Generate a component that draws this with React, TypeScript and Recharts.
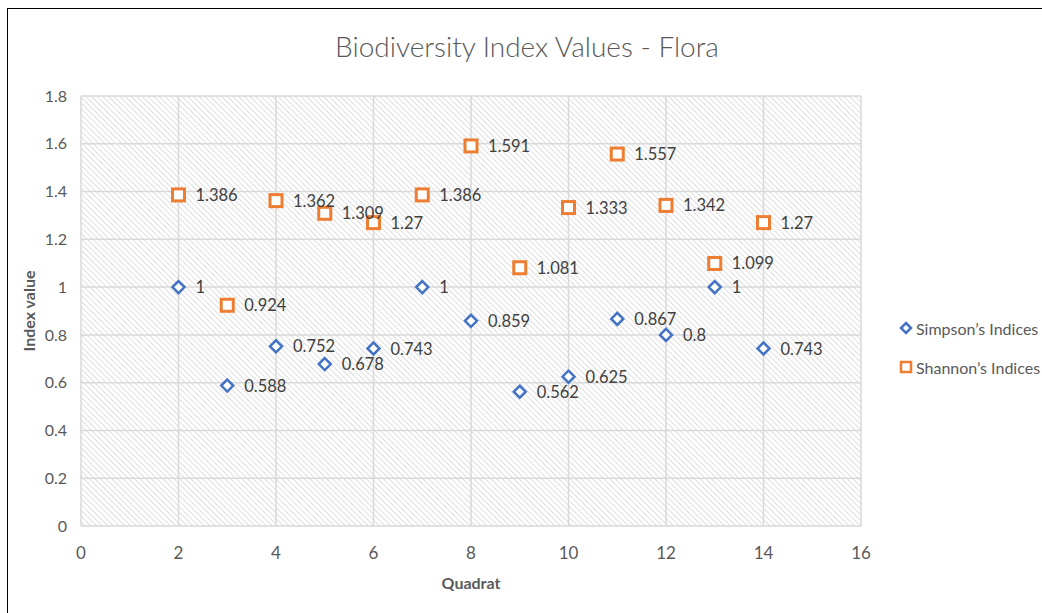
import React from 'react';
import { ScatterChart, Scatter, XAxis, YAxis, CartesianGrid, LabelList } from 'recharts';

const quadrats = [2, 3, 4, 5, 6, 7, 8, 9, 10, 11, 12, 13, 14];
const simpsonValues = [1, 0.588, 0.752, 0.678, 0.743, 1, 0.859, 0.562, 0.625, 0.867, 0.8, 1, 0.743];
const shannonValues = [1.386, 0.924, 1.362, 1.309, 1.27, 1.386, 1.591, 1.081, 1.333, 1.557, 1.342, 1.099, 1.27];
const xTicks = [0, 2, 4, 6, 8, 10, 12, 14, 16];
const yTicks = [0, 0.2, 0.4, 0.6, 0.8, 1, 1.2, 1.4, 1.6, 1.8];

const simpsonData = quadrats.map((q, i) => ({ x: q, y: simpsonValues[i] }));
const shannonData = quadrats.map((q, i) => ({ x: q, y: shannonValues[i] }));

const BLUE = '#4472C4';
const ORANGE = '#ED7D31';
const FONT = 'Lato, "Open Sans", sans-serif';

const Diamond = (props: any) => {
  const { cx, cy } = props;
  const r = 6;
  return (
    <path
      d={`M${cx},${cy - r} L${cx + r},${cy} L${cx},${cy + r} L${cx - r},${cy} Z`}
      fill="#fff"
      stroke={BLUE}
      strokeWidth={2.5}
    />
  );
};

const Square = (props: any) => {
  const { cx, cy } = props;
  const s = 12;
  return <rect x={cx - s / 2} y={cy - s / 2} width={s} height={s} fill="#fff" stroke={ORANGE} strokeWidth={3} />;
};

const renderLabel = (props: any) => {
  const { x, y, width, height, value } = props;
  return (
    <text
      x={x + width / 2 + 17}
      y={y + height / 2}
      dominantBaseline="central"
      fontSize={16.5}
      fontFamily={FONT}
      fill="#404040"
    >
      {value}
    </text>
  );
};

export default function App() {
  return (
    <div style={{ position: 'absolute', left: 0, top: 0, width: 1042, height: 613, background: '#fff', overflow: 'hidden' }}>
      <div
        style={{
          position: 'absolute',
          left: 7,
          top: 8,
          width: 1100,
          height: 700,
          borderLeft: '1.5px solid #000',
          borderTop: '1.5px solid #000',
        }}
      />
      <div
        style={{
          position: 'absolute',
          left: 0,
          width: 1054,
          top: 29,
          textAlign: 'center',
          fontFamily: FONT,
          fontSize: 28,
          color: '#595959',
          fontWeight: 300,
        }}
      >
        Biodiversity Index Values - Flora
      </div>
      <div style={{ position: 'absolute', left: 0, top: 0 }}>
        <ScatterChart width={1042} height={613} margin={{ top: 96, right: 181, bottom: 47, left: 41 }}>
          <defs>
            <pattern id="hatch" width="4" height="4" patternUnits="userSpaceOnUse" patternTransform="rotate(-45)">
              <rect width="4" height="4" fill="#fff" />
              <line x1="0" y1="0" x2="0" y2="4" stroke="#d6d6d6" strokeWidth="1.6" />
            </pattern>
          </defs>
          <CartesianGrid
            stroke="#d9d9d9"
            strokeWidth={1.5}
            fill="url(#hatch)"
            fillOpacity={1}
            horizontalValues={yTicks}
            verticalValues={xTicks}
          />
          <XAxis
            type="number"
            dataKey="x"
            domain={[0, 16]}
            ticks={xTicks}
            height={40}
            axisLine={false}
            tickLine={false}
            tickSize={0}
            tickMargin={21}
            tick={{ fontSize: 17, fill: '#595959', fontFamily: FONT }}
            label={{ value: 'Quadrat', position: 'insideBottom', offset: -23, fontSize: 16, fontWeight: 700, fill: '#595959', fontFamily: FONT }}
          />
          <YAxis
            type="number"
            dataKey="y"
            domain={[0, 1.8]}
            ticks={yTicks}
            width={40}
            axisLine={false}
            tickLine={false}
            tickSize={0}
            tickMargin={14}
            tick={{ fontSize: 16, fill: '#595959', fontFamily: FONT }}
            label={{ value: 'Index value', angle: -90, position: 'insideLeft', offset: -12, fontSize: 16, fontWeight: 700, fill: '#595959', fontFamily: FONT, style: { textAnchor: 'middle' } }}
          />
          <Scatter name="Simpson’s Indices" data={simpsonData} shape={Diamond} isAnimationActive={false}>
            <LabelList dataKey="y" content={renderLabel} />
          </Scatter>
          <Scatter name="Shannon’s Indices" data={shannonData} shape={Square} isAnimationActive={false}>
            <LabelList dataKey="y" content={renderLabel} />
          </Scatter>
        </ScatterChart>
      </div>
      <div style={{ position: 'absolute', left: 899, top: 318, fontFamily: FONT, fontSize: 16, color: '#595959', whiteSpace: 'nowrap' }}>
        <div style={{ display: 'flex', alignItems: 'center', height: 20, marginBottom: 19 }}>
          <svg width={14} height={14} style={{ marginRight: 3 }}>
            <path d="M7,2 L12,7 L7,12 L2,7 Z" fill="#fff" stroke={BLUE} strokeWidth={2.5} />
          </svg>
          Simpson’s Indices
        </div>
        <div style={{ display: 'flex', alignItems: 'center', height: 20 }}>
          <svg width={14} height={14} style={{ marginRight: 3 }}>
            <rect x={2} y={2} width={10} height={10} fill="#fff" stroke={ORANGE} strokeWidth={2.5} />
          </svg>
          Shannon’s Indices
        </div>
      </div>
    </div>
  );
}
